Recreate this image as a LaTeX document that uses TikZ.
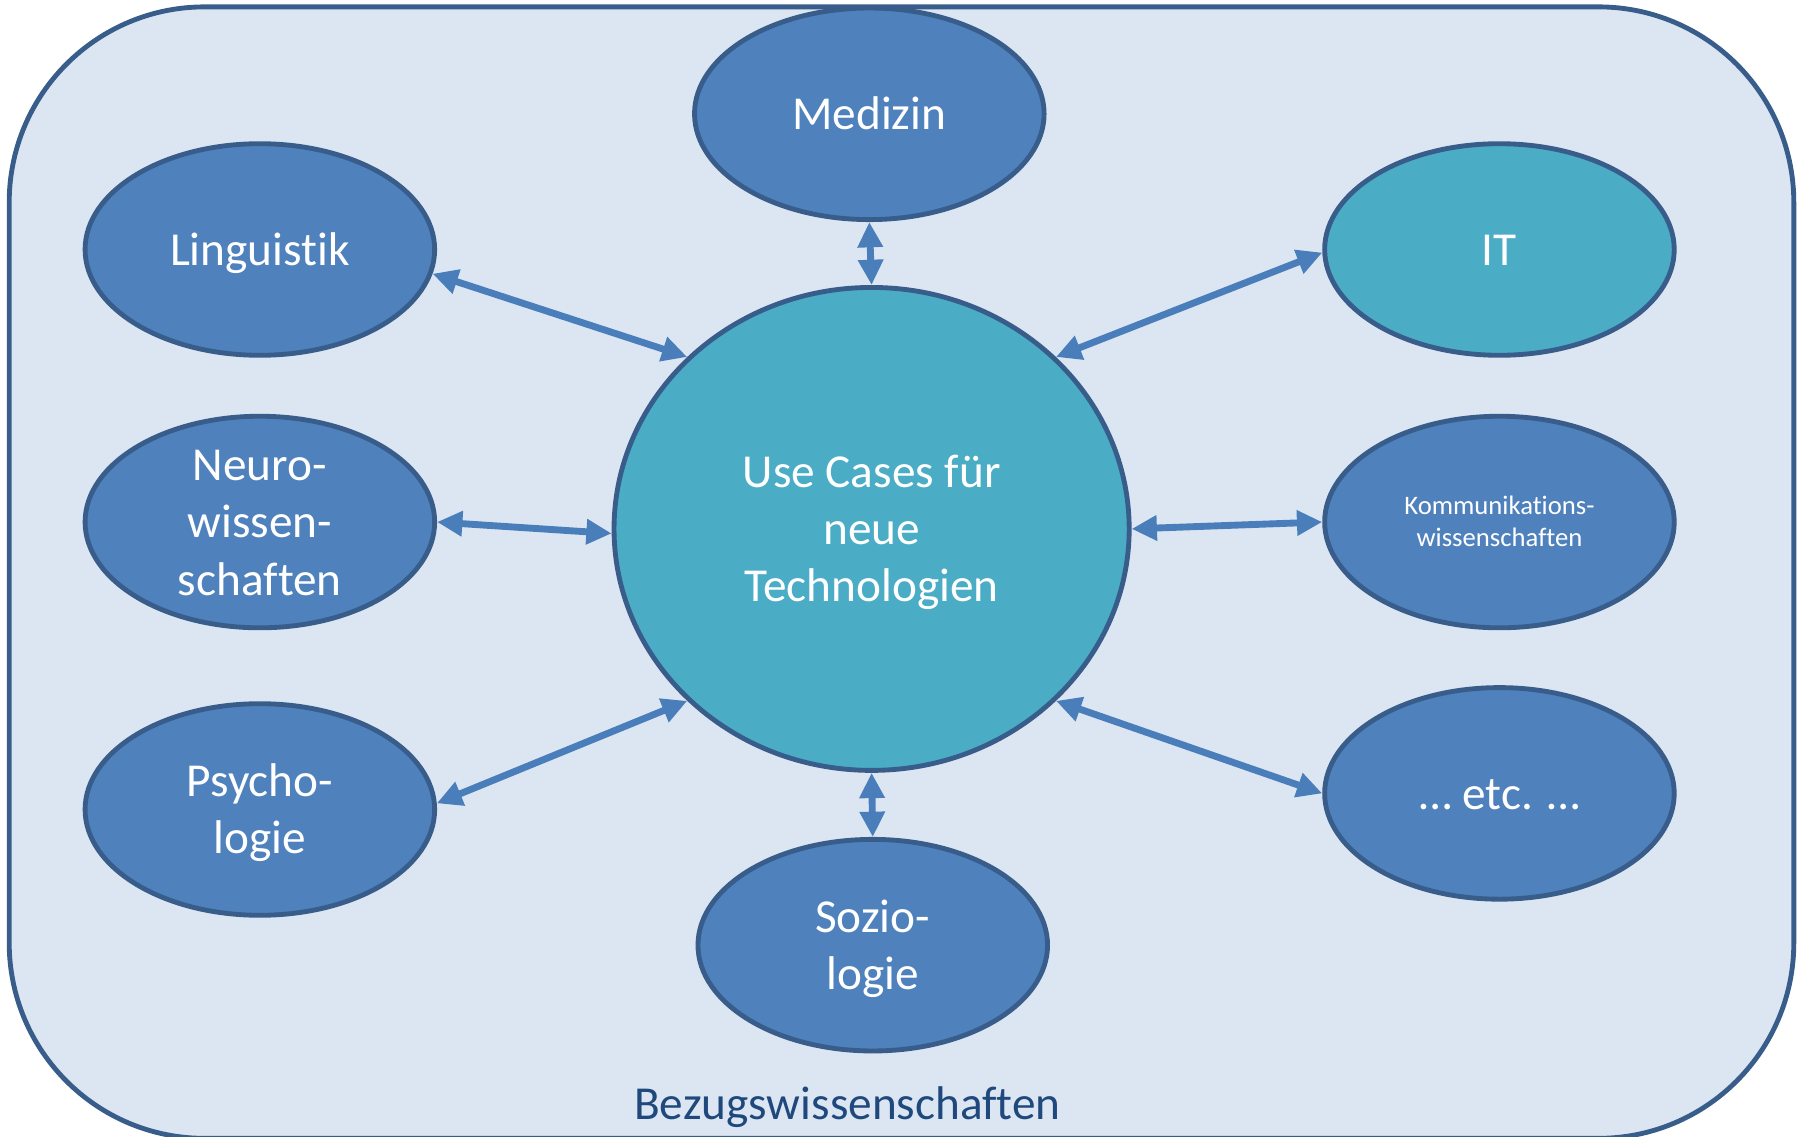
\documentclass[tikz,border=0pt]{standalone}
\usepackage{fontspec}
\setmainfont{Carlito}[Ligatures={NoCommon}]
\usetikzlibrary{shapes.geometric}
\usetikzlibrary{arrows.meta}
\definecolor{rahmen}{HTML}{385D8A}
\definecolor{flaeche}{HTML}{DCE6F2}
\definecolor{fachblau}{HTML}{4F81BD}
\definecolor{tuerkis}{HTML}{4BACC6}
\definecolor{pfeilblau}{HTML}{4A7EBB}
\definecolor{titelblau}{HTML}{1F497D}
\newcommand{\zo}{\rule{0pt}{0.88em}}
\newcommand{\zu}{\rule[-0.22em]{0pt}{0.22em}}

\begin{document}
\begin{tikzpicture}[ > = {Triangle[length=0.22cm,width=0.21cm]},
    fach/.style={ellipse, draw=rahmen, line width=1.2pt, fill=fachblau, text=white, align=center,
                 inner sep=0, minimum width=3.04cm, minimum height=1.84cm,
                 font=\fontsize{11.7}{14.2}\selectfont},
    pfeil/.style={<->, draw=pfeilblau, line width=1.7pt}]

         \useasboundingbox (0,0) rectangle (15.68,9.88);
         \draw[rahmen, fill=flaeche, line width=1.2pt, rounded corners=1.7cm] (0.08,-0.02) rectangle (15.60,9.82);
         \node(bez) at (7.37,0.14) [anchor=base, text=titelblau, font=\fontsize{11.7}{14.2}\selectfont]{Bezugswissenschaften};

         \node(uc) at (7.58,5.28) [fach, fill=tuerkis, minimum width=4.48cm, minimum height=4.2cm]{\zo Use Cases für\\neue\\Technologien\zu};
         \node(med) at (7.56,8.89) [fach]{\zo Medizin\zu};
         \node(ling) at (2.26,7.71) [fach]{\zo Linguistik\zu};
         \node(it) at (13.04,7.71) [fach, fill=tuerkis]{\zo IT\zu};
         \node(neuro) at (2.26,5.34) [fach, inner ysep=-0.08cm]{\zo Neuro-\\wissen-\\schaften\zu};
         \node(komm) at (13.04,5.34) [fach, font=\fontsize{6.6}{8}\selectfont]{\zo Kommunikations-\\wissenschaften\zu};
         \node(psy) at (2.26,2.84) [fach]{\zo Psycho-\\logie\zu};
         \node(etc) at (13.04,2.98) [fach]{\zo … etc. …\zu};
         \node(soz) at (7.59,1.66) [fach]{\zo Sozio-\\logie\zu};

         \draw[pfeil] (med.south) -- (uc.north);
         \draw[pfeil] (ling.-8) -- (uc.137);
         \draw[pfeil] (it.181) -- (uc.43);
         \draw[pfeil] (neuro.0) -- (uc.181);
         \draw[pfeil] (komm.180) -- (uc.0);
         \draw[pfeil] (psy.2) -- (uc.223);
         \draw[pfeil] (etc.180) -- (uc.-43);
         \draw[pfeil] (soz.north) -- (uc.south);

\end{tikzpicture}
\end{document}
